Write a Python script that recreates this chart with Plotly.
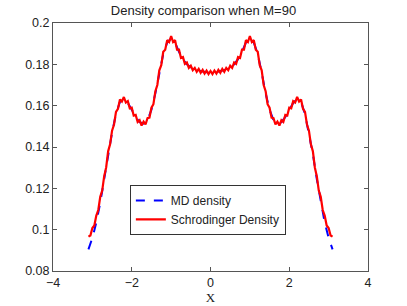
import plotly.graph_objects as go

title_text = "Density comparison when M=90"

x_md = [-3.1, -3.0, -2.9, -2.8, -2.7, -2.6, -2.5, -2.4, -2.3, -2.2,
        -2.1, -2.0, -1.9, -1.8, -1.7, -1.6, -1.5, -1.4, -1.3, -1.2,
        -1.1, -1.0, -0.9, -0.8, -0.7, -0.6, -0.5, -0.4, -0.3, -0.2,
        -0.1, 0.0,
        0.1, 0.2, 0.3, 0.4, 0.5, 0.6, 0.7, 0.8, 0.9, 1.0,
        1.1, 1.2, 1.3, 1.4, 1.5, 1.6, 1.7, 1.8, 1.9, 2.0,
        2.1, 2.2, 2.3, 2.4, 2.5, 2.6, 2.7, 2.8, 2.9, 3.0, 3.1]
md_density = [0.0905, 0.0960, 0.1035, 0.1130, 0.1245, 0.1365, 0.1470, 0.1560, 0.1618, 0.1632,
              0.1613, 0.1580, 0.1545, 0.1520, 0.1513, 0.1530, 0.1580, 0.1660, 0.1760, 0.1850,
              0.1905, 0.1925, 0.1905, 0.1860, 0.1825, 0.1800, 0.1785, 0.1775, 0.1770, 0.1765,
              0.1762, 0.1760,
              0.1762, 0.1765, 0.1770, 0.1775, 0.1785, 0.1800, 0.1825, 0.1860, 0.1905, 0.1925,
              0.1905, 0.1850, 0.1760, 0.1660, 0.1580, 0.1530, 0.1513, 0.1520, 0.1545, 0.1580,
              0.1613, 0.1632, 0.1618, 0.1560, 0.1470, 0.1365, 0.1245, 0.1130, 0.1035, 0.0960, 0.0905]

x_sch = [-3.10, -3.05, -3.00, -2.95, -2.90, -2.85, -2.80, -2.75, -2.70, -2.65,
         -2.60, -2.55, -2.50, -2.45, -2.40, -2.35, -2.30, -2.25, -2.20, -2.15,
         -2.10, -2.05, -2.00, -1.95, -1.90, -1.85, -1.80, -1.75, -1.70, -1.65,
         -1.60, -1.55, -1.50, -1.45, -1.40, -1.35, -1.30, -1.25, -1.20, -1.15,
         -1.10, -1.05, -1.00, -0.95, -0.90, -0.85, -0.80, -0.75, -0.70, -0.65,
         -0.60, -0.55, -0.50, -0.45, -0.40, -0.35, -0.30, -0.25, -0.20, -0.15,
         -0.10, -0.05, 0.00,
         0.05, 0.10, 0.15, 0.20, 0.25, 0.30, 0.35, 0.40, 0.45, 0.50,
         0.55, 0.60, 0.65, 0.70, 0.75, 0.80, 0.85, 0.90, 0.95, 1.00,
         1.05, 1.10, 1.15, 1.20, 1.25, 1.30, 1.35, 1.40, 1.45, 1.50,
         1.55, 1.60, 1.65, 1.70, 1.75, 1.80, 1.85, 1.90, 1.95, 2.00,
         2.05, 2.10, 2.15, 2.20, 2.25, 2.30, 2.35, 2.40, 2.45, 2.50,
         2.55, 2.60, 2.65, 2.70, 2.75, 2.80, 2.85, 2.90, 2.95, 3.00,
         3.05, 3.10]
sch_density = [0.0966, 0.0972, 0.1008, 0.1020, 0.1068, 0.1095, 0.1159, 0.1189, 0.1259, 0.1301,
               0.1379, 0.1413, 0.1479, 0.1509, 0.1570, 0.1585, 0.1630, 0.1620, 0.1642, 0.1615,
               0.1622, 0.1587, 0.1590, 0.1552, 0.1555, 0.1521, 0.1530, 0.1504, 0.1523, 0.1509,
               0.1540, 0.1542, 0.1590, 0.1607, 0.1670, 0.1700, 0.1771, 0.1796, 0.1861, 0.1871,
               0.1917, 0.1908, 0.1937, 0.1908, 0.1917, 0.1871, 0.1871, 0.1831, 0.1835, 0.1802,
               0.1809, 0.1783, 0.1793, 0.1772, 0.1783, 0.1764, 0.1778, 0.1759, 0.1773, 0.1755,
               0.1770, 0.1753, 0.1768,
               0.1753, 0.1770, 0.1755, 0.1773, 0.1759, 0.1778, 0.1764, 0.1783, 0.1772, 0.1793,
               0.1783, 0.1809, 0.1802, 0.1835, 0.1831, 0.1871, 0.1871, 0.1917, 0.1908, 0.1937,
               0.1908, 0.1917, 0.1871, 0.1861, 0.1796, 0.1771, 0.1700, 0.1670, 0.1607, 0.1590,
               0.1542, 0.1540, 0.1509, 0.1523, 0.1504, 0.1530, 0.1521, 0.1555, 0.1552, 0.1590,
               0.1587, 0.1622, 0.1615, 0.1642, 0.1620, 0.1630, 0.1585, 0.1570, 0.1509, 0.1479,
               0.1413, 0.1379, 0.1301, 0.1259, 0.1189, 0.1159, 0.1095, 0.1068, 0.1020, 0.1008,
               0.0972, 0.0966]

x_ticks = [-4, -2, 0, 2, 4]
x_tick_labels = ["\u22124", "\u22122", "0", "2", "4"]
y_ticks = [0.08, 0.10, 0.12, 0.14, 0.16, 0.18, 0.20]
y_tick_labels = ["0.08", "0.1", "0.12", "0.14", "0.16", "0.18", "0.2"]

fig = go.Figure()
fig.add_trace(go.Scatter(x=x_md, y=md_density, mode="lines", name="MD density",
                         line=dict(color="#0000ff", width=2, dash="dash")))
fig.add_trace(go.Scatter(x=x_sch, y=sch_density, mode="lines", name="Schrodinger Density",
                         line=dict(color="#ff0000", width=2.2)))

axis_common = dict(showgrid=False, zeroline=False, showline=True, linecolor="#555555",
                   linewidth=1, mirror="ticks", ticks="inside", ticklen=4, automargin=False,
                   tickcolor="#555555", tickfont=dict(family="Liberation Sans", size=12.5, color="#222222"))

fig.update_layout(
    width=407, height=306,
    margin=dict(l=53, r=39, t=23, b=35),
    paper_bgcolor="white", plot_bgcolor="white",
    title=dict(text=title_text, x=0.5, xanchor="center", y=0.965, yanchor="middle",
               yref="container", font=dict(family="Liberation Sans", size=13, color="#222222")),
    xaxis=dict(range=[-4, 4], tickvals=x_ticks, ticktext=x_tick_labels,
               title=dict(text="X", standoff=1, font=dict(family="Liberation Serif", size=13, color="#222222")),
               **axis_common),
    yaxis=dict(range=[0.08, 0.2], tickvals=y_ticks, ticktext=y_tick_labels, **axis_common),
    legend=dict(x=0.244, y=0.347, xanchor="left", yanchor="top", bgcolor="white",
                bordercolor="#333333", borderwidth=1, tracegroupgap=0, itemwidth=30,
                font=dict(family="Liberation Sans", size=12, color="#222222")),
    showlegend=True,
)

fig.write_html("out.html", config={"displayModeBar": False},
               post_script="document.body.style.margin='0';")
